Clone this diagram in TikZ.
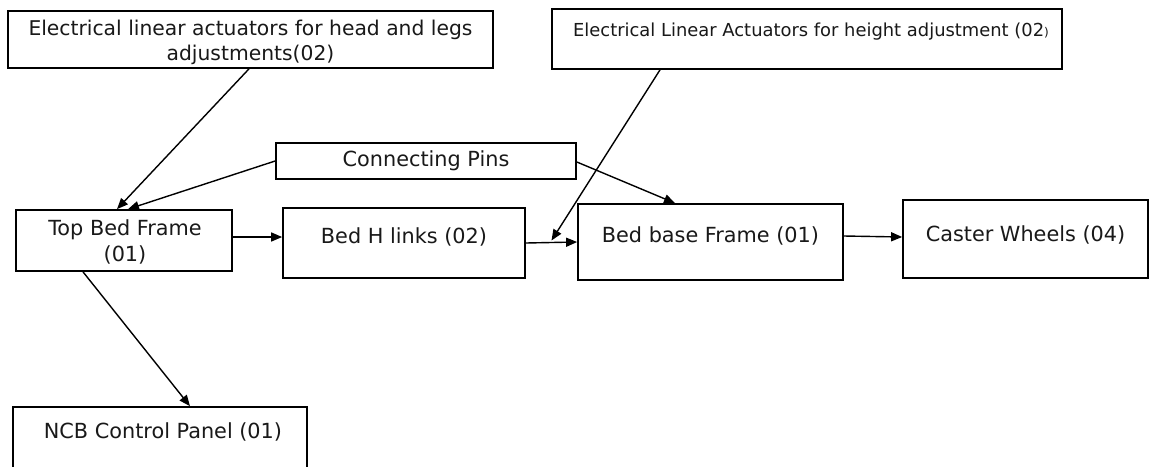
\documentclass[tikz,border=0pt]{standalone}
\usepackage{fontspec}
\setmainfont{DejaVu Sans}
\usetikzlibrary{arrows.meta,calc}
\begin{document}
\begin{tikzpicture}[x=1pt,y=-1pt,
  box/.style={draw=black, line width=1.7pt, inner sep=0pt},
  txt/.style={inner sep=0pt, align=center, text=black!90, font=\fontsize{20.8}{26}\selectfont},
  arr/.style={line width=1.4pt, -{Triangle[length=11pt,width=9pt]}}]
\useasboundingbox (0,0) rectangle (1150,466);
\fill[white] (0,0) rectangle (1150,466);
\clip (0,0) rectangle (1150,466);
% boxes
\node[box, minimum width=485pt, minimum height=57pt] (a) at (250.5,39.5) {};
\node[box, minimum width=510pt, minimum height=60pt] (b) at (807,39) {};
\node[box, minimum width=300pt, minimum height=36pt] (cp) at (426,161) {};
\node[box, minimum width=216pt, minimum height=61pt] (tbf) at (124,240.5) {};
\node[box, minimum width=242pt, minimum height=70pt] (hl) at (404,243) {};
\node[box, minimum width=265pt, minimum height=76pt] (bb) at (710.5,242) {};
\node[box, minimum width=245pt, minimum height=78pt] (cw) at (1025.5,239) {};
\node[box, minimum width=294pt, minimum height=100pt] (ncb) at (160,457) {};
% texts
\node[txt, font=\fontsize{20.3}{25}\selectfont] (at) at (250.5,42.5) {Electrical linear actuators for head and legs\\adjustments(02)};
\node[txt, font=\fontsize{17.9}{22}\selectfont] (bt) at (811,32) {Electrical Linear Actuators for height adjustment (02{\fontsize{12}{12}\selectfont )}};
\node[txt] (cpt) at (426,161) {Connecting Pins};
\node[txt] (tbft) at (125,242) {Top Bed Frame\\(01)};
\node[txt] (hlt) at (404,237) {Bed H links (02)};
\node[txt] (bbt) at (710.5,236) {Bed base Frame (01)};
\node[txt] (cwt) at (1025.5,235) {Caster Wheels (04)};
\node[txt] (ncbt) at (163,432) {NCB Control Panel (01)};
% connectors
\coordinate (hx) at ($(hl.east)!0.5!(bb.west)+(0,-2)$);
\draw[arr] ([xshift=-1.5pt]a.south) -- ([xshift=-7pt]tbf.north);
\draw[arr] (cp.west) -- ([xshift=4pt]tbf.north);
\draw[arr] ([yshift=-1pt]cp.east) -- ([xshift=-35.5pt]bb.north);
\draw[arr] ([xshift=-147pt]b.south) -- (hx);
\draw[arr] ([yshift=3.5pt]tbf.east) -- ([yshift=6pt]hl.west);
\draw[arr] (hl.east) -- (bb.west);
\draw[arr] ([yshift=6pt]bb.east) -- ([yshift=2pt]cw.west);
\draw[arr] ([xshift=-41pt]tbf.south) -- ([xshift=30pt]ncb.north);
\end{tikzpicture}
\end{document}
